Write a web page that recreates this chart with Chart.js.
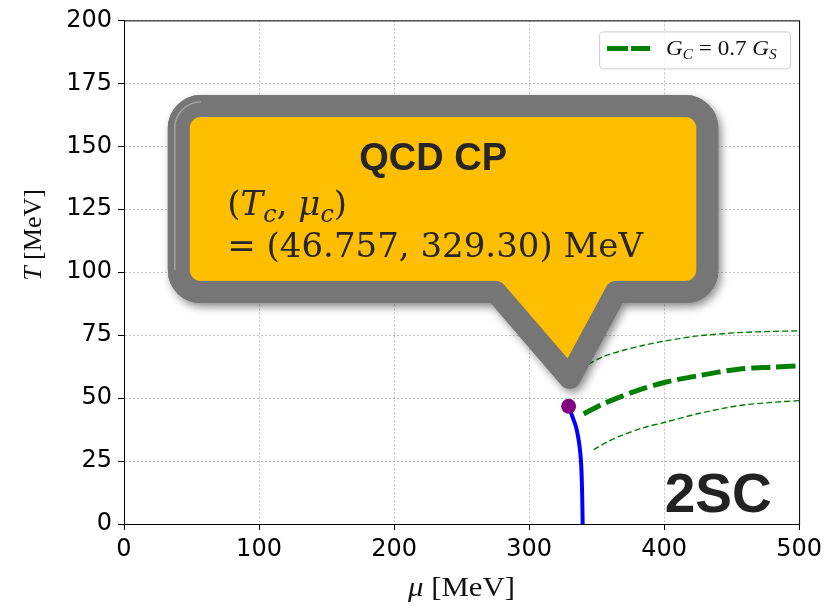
<!DOCTYPE html>
<html>
<head>
<meta charset="utf-8">
<script src="https://cdn.jsdelivr.net/npm/chart.js@4.4.0/dist/chart.umd.min.js"></script>
<style>
  html, body { margin: 0; padding: 0; background: #fff; }
  #wrap { width: 827px; height: 610px; }
</style>
</head>
<body>
<div id="wrap"><canvas id="chart" width="827" height="610"></canvas></div>
<script>
// first-order boundary (blue), mu in MeV / T in MeV
const muBlue = [329.3, 331.8, 334.8, 336.8, 338.0, 338.7, 339.2, 339.5, 339.7];
const tBlue = [46.757, 43.1, 38.5, 33.2, 27.9, 22.6, 14.7, 7.0, 0];

// G_C = 0.7 G_S line (thick dashed)
const muGC = [340.5, 352, 363.8, 380, 400.8, 425.4, 455, 480, 500];
const tGC = [43.7, 47.0, 49.7, 53.0, 56.3, 58.9, 61.5, 62.3, 62.8];

// thin dashed lines above / below
const muUpper = [344, 355, 368.5, 385, 400.8, 425, 455, 480, 500];
const tUpper = [63.5, 66.5, 68.8, 71.0, 72.7, 74.7, 76.0, 76.5, 76.7];
const muLower = [347.9, 358, 368.8, 385, 400.8, 425, 455, 480, 500];
const tLower = [29.5, 32.6, 35.2, 38.3, 40.4, 43.8, 47.0, 48.3, 49.0];

// critical point
const cpMu = [329.3];
const cpT = [46.757];

const xMin = 0, xMax = 500, xStep = 100;
const yMin = 0, yMax = 200, yStep = 25;

const toPts = (xs, ys) => xs.map((x, i) => ({ x: x, y: ys[i] }));

function runsWidth(ctx, runs) {
  let w = 0;
  runs.forEach(r => { ctx.font = r.font; w += ctx.measureText(r.t).width; });
  return w;
}
function drawRuns(ctx, x, y, runs, sx) {
  ctx.save();
  ctx.translate(x, y);
  ctx.scale(sx || 1, 1);
  let cx = 0;
  runs.forEach(r => {
    ctx.font = r.font;
    ctx.fillText(r.t, cx, r.dy || 0);
    cx += ctx.measureText(r.t).width;
  });
  ctx.restore();
}

const decor = {
  id: 'decor',
  afterDatasetsDraw(chart) {
    const ctx = chart.ctx;
    const a = chart.chartArea;
    const xs = chart.scales.x, ys = chart.scales.y;
    const px = v => xs.getPixelForValue(v);
    const py = v => ys.getPixelForValue(v);

    // frame
    ctx.save();
    ctx.strokeStyle = '#000';
    ctx.lineWidth = 1;
    ctx.strokeRect(a.left + 0.5, a.top + 0.5, a.right - a.left, a.bottom - a.top);
    ctx.restore();

    // 2SC label
    ctx.save();
    ctx.fillStyle = '#222';
    ctx.font = 'bold 55px "Liberation Sans", Arial, sans-serif';
    ctx.textBaseline = 'alphabetic';
    ctx.fillText('2SC', px(400.5), py(4.6));
    ctx.restore();

    // callout
    const L = px(40.6), R = px(432), T = py(166), B = py(92.1), r = 22;
    const tipX = px(330.1), tipY = py(58.1);
    const baseR = px(364.2), baseL = px(275.5);
    const path = () => {
      ctx.beginPath();
      ctx.moveTo(L + r, T);
      ctx.lineTo(R - r, T);
      ctx.arcTo(R, T, R, T + r, r);
      ctx.lineTo(R, B - r);
      ctx.arcTo(R, B, R - r, B, r);
      ctx.lineTo(baseR, B);
      ctx.lineTo(tipX, tipY);
      ctx.lineTo(baseL, B);
      ctx.lineTo(L + r, B);
      ctx.arcTo(L, B, L, B - r, r);
      ctx.lineTo(L, T + r);
      ctx.arcTo(L, T, L + r, T, r);
      ctx.closePath();
    };
    ctx.save();
    ctx.lineJoin = 'round';
    ctx.lineWidth = 22;
    ctx.shadowColor = 'rgba(0,0,0,0.45)';
    ctx.shadowBlur = 8;
    ctx.shadowOffsetX = 3;
    ctx.shadowOffsetY = 4;
    ctx.fillStyle = '#767676';
    ctx.strokeStyle = '#767676';
    path(); ctx.fill(); ctx.stroke();
    ctx.shadowColor = 'rgba(0,0,0,0)';
    ctx.fillStyle = '#FFBF00';
    path(); ctx.fill(); ctx.stroke();
    // faint bevel line inside the border
    ctx.lineWidth = 1.5;
    ctx.strokeStyle = 'rgba(200,200,200,0.55)';
    ctx.lineJoin = 'round';
    ctx.beginPath();
    ctx.moveTo(L - 4, B - r);
    ctx.lineTo(L - 4, T + r);
    ctx.arcTo(L - 4, T - 4, L + r, T - 4, r + 4);
    ctx.stroke();
    ctx.restore();

    // callout text
    ctx.save();
    ctx.fillStyle = '#262626';
    ctx.textBaseline = 'alphabetic';
    ctx.font = 'bold 38px "Liberation Sans", Arial, sans-serif';
    ctx.textAlign = 'center';
    ctx.fillText('QCD CP', px(229), py(140.7));
    ctx.textAlign = 'left';
    const fs = 34;
    const up = fs + 'px "DejaVu Serif", serif';
    const it = 'italic ' + fs + 'px "DejaVu Serif", serif';
    const sub = 'italic ' + Math.round(fs * 0.7) + 'px "DejaVu Serif", serif';
    drawRuns(ctx, px(76.5), py(122.9), [
      { t: '(', font: up },
      { t: 'T', font: it },
      { t: 'c', font: sub, dy: 7 },
      { t: ', ', font: up },
      { t: 'μ', font: it },
      { t: 'c', font: sub, dy: 7 },
      { t: ')', font: up }
    ]);
    drawRuns(ctx, px(76.5), py(105.9), [
      { t: '= (46.757, 329.30) MeV', font: up }
    ]);
    ctx.restore();

    // legend
    ctx.save();
    const bw = 191, bh = 37;
    const bx = a.right - 9 - bw, by = a.top + 11;
    ctx.beginPath();
    ctx.roundRect(bx + 0.5, by + 0.5, bw, bh, 4);
    ctx.fillStyle = 'rgba(255,255,255,0.85)';
    ctx.fill();
    ctx.strokeStyle = '#cccccc';
    ctx.lineWidth = 1;
    ctx.stroke();
    ctx.beginPath();
    ctx.setLineDash([21, 3]);
    ctx.strokeStyle = '#008000';
    ctx.lineWidth = 5;
    ctx.moveTo(bx + 8, by + 17);
    ctx.lineTo(bx + 51, by + 17);
    ctx.stroke();
    ctx.setLineDash([]);
    ctx.fillStyle = '#111';
    const lf = 21;
    const lit = 'italic ' + lf + 'px "Liberation Serif", serif';
    const lup = lf + 'px "Liberation Serif", serif';
    const lsub = 'italic ' + Math.round(lf * 0.68) + 'px "Liberation Serif", serif';
    drawRuns(ctx, bx + 67, by + 24, [
      { t: 'G', font: lit },
      { t: 'C', font: lsub, dy: 4 },
      { t: ' = 0.7 ', font: lup },
      { t: 'G', font: lit },
      { t: 'S', font: lsub, dy: 4 }
    ], 1.1);
    ctx.restore();

    // axis titles
    ctx.save();
    ctx.fillStyle = '#111';
    const xr = [
      { t: 'μ', font: 'italic 28px "Liberation Serif", serif' },
      { t: ' [MeV]', font: '28px "Liberation Serif", serif' }
    ];
    const xw = runsWidth(ctx, xr) * 1.1;
    drawRuns(ctx, (a.left + a.right) / 2 - xw / 2, 596, xr, 1.1);
    const yr = [
      { t: 'T', font: 'italic 26px "Liberation Serif", serif' },
      { t: ' [MeV]', font: '26px "Liberation Serif", serif' }
    ];
    const yw = runsWidth(ctx, yr);
    ctx.translate(41, 235);
    ctx.rotate(-Math.PI / 2);
    drawRuns(ctx, -yw / 2, 0, yr);
    ctx.restore();
  }
};

const tickFont = { family: '"DejaVu Sans", sans-serif', size: 24 };

// datasets listed top-most first (Chart.js draws index 0 last)
new Chart(document.getElementById('chart').getContext('2d'), {
  type: 'scatter',
  data: {
    datasets: [
      {
        data: toPts(cpMu, cpT),
        pointRadius: 7.5, pointBackgroundColor: '#800080',
        pointBorderColor: '#800080', pointBorderWidth: 0
      },
      {
        data: toPts(muBlue, tBlue),
        showLine: true, borderColor: '#0000ff', borderWidth: 4,
        pointRadius: 0, tension: 0.3, fill: false
      },
      {
        label: 'G_C = 0.7 G_S',
        data: toPts(muGC, tGC),
        showLine: true, borderColor: '#008000', borderWidth: 5,
        borderDash: [19, 6], pointRadius: 0, tension: 0.3, fill: false
      },
      {
        data: toPts(muUpper, tUpper),
        showLine: true, borderColor: '#008000', borderWidth: 1.4,
        borderDash: [6, 3], pointRadius: 0, tension: 0.3, fill: false
      },
      {
        data: toPts(muLower, tLower),
        showLine: true, borderColor: '#008000', borderWidth: 1.4,
        borderDash: [6, 3], pointRadius: 0, tension: 0.3, fill: false
      }
    ]
  },
  options: {
    responsive: false,
    animation: false,
    layout: { padding: { top: 18, right: 26, left: 0, bottom: 0 } },
    plugins: { legend: { display: false }, tooltip: { enabled: false } },
    scales: {
      x: {
        type: 'linear', min: xMin, max: xMax,
        afterFit: s => { s.height = 86; },
        ticks: { stepSize: xStep, color: '#000', font: tickFont, padding: 5, maxRotation: 0 },
        grid: { color: '#b0b0b0', lineWidth: 0.8, tickColor: '#000', tickLength: 6, tickWidth: 1, tickBorderDash: [] },
        border: { color: '#000', width: 1, dash: [2, 2] }
      },
      y: {
        type: 'linear', min: yMin, max: yMax,
        afterFit: s => { s.width = 124; },
        ticks: { stepSize: yStep, color: '#000', font: tickFont, padding: 6 },
        grid: { color: '#b0b0b0', lineWidth: 0.8, tickColor: '#000', tickLength: 6, tickWidth: 1, tickBorderDash: [] },
        border: { color: '#000', width: 1, dash: [2, 2] }
      }
    }
  },
  plugins: [decor]
});
</script>
</body>
</html>
